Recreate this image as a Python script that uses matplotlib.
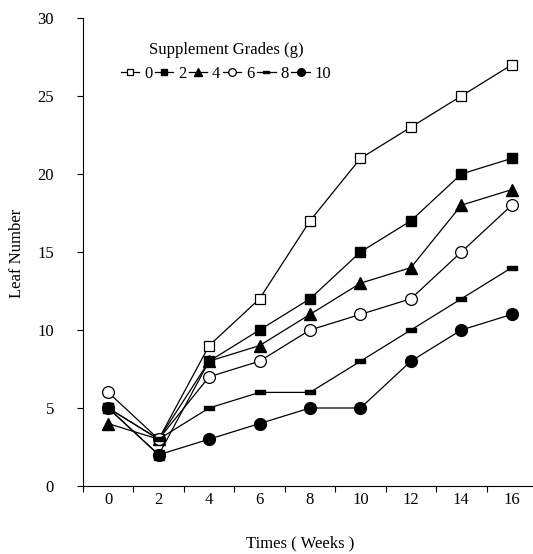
import matplotlib
matplotlib.use("Agg")
import matplotlib.pyplot as plt
from matplotlib.ticker import FixedLocator, NullFormatter

plt.rcParams['font.family'] = ['Liberation Serif', 'DejaVu Serif']

weeks = [0, 2, 4, 6, 8, 10, 12, 14, 16]
grade_labels = ['0', '2', '4', '6', '8', '10']
g0 = [5, 3, 9, 12, 17, 21, 23, 25, 27]
g2 = [5, 2, 8, 10, 12, 15, 17, 20, 21]
g4 = [4, 3, 8, 9, 11, 13, 14, 18, 19]
g6 = [6, 3, 7, 8, 10, 11, 12, 15, 18]
g8 = [5, 3, 5, 6, 6, 8, 10, 12, 14]
g10 = [5, 2, 3, 4, 5, 5, 8, 10, 11]
series = [g0, g2, g4, g6, g8, g10]

bar = [(-1, -0.32), (1, -0.32), (1, 0.32), (-1, 0.32), (-1, -0.32)]
styles = [
    dict(marker='s', mfc='white', mec='black', ms=7.5, mew=0.9),
    dict(marker='s', mfc='black', mec='black', ms=7.5),
    dict(marker='^', mfc='black', mec='black', ms=8.5),
    dict(marker='o', mfc='white', mec='black', ms=8.5, mew=0.9),
    dict(marker=bar, mfc='black', mec='black', ms=7.5),
    dict(marker='o', mfc='black', mec='black', ms=8.5),
]

fig = plt.figure(figsize=(5.33, 5.54), dpi=100)
W, H = 533, 554
left, right = 83 / W, 537 / W
bottom, top = (H - 486) / H, (H - 18) / H
ax = fig.add_axes([left, bottom, right - left, top - bottom])

for vals, lab, st in zip(series, grade_labels, styles):
    ax.plot(weeks, vals, color='black', lw=0.9, label=lab, **st)

ax.set_xlim(-1, 17)
ax.set_ylim(0, 30)
ax.set_yticks([0, 5, 10, 15, 20, 25, 30])
ax.xaxis.set_major_locator(FixedLocator([-1, 1, 3, 5, 7, 9, 11, 13, 15, 17]))
ax.xaxis.set_major_formatter(NullFormatter())
ax.xaxis.set_minor_locator(FixedLocator(weeks))
ax.set_xticklabels([str(w) for w in weeks], minor=True)
ax.tick_params(axis='x', which='major', direction='out', length=4, width=0.8)
ax.tick_params(axis='x', which='minor', length=0, pad=4, labelsize=12)
ax.tick_params(axis='y', direction='out', length=4, width=0.8, pad=17, labelsize=12)
for s in ['top', 'right']:
    ax.spines[s].set_visible(False)
for s in ['left', 'bottom']:
    ax.spines[s].set_linewidth(0.8)

fig.text(17 / W, 1 - 253 / H, 'Leaf Number', rotation=90, ha='center', va='center', fontsize=12)
fig.text(300 / W, 1 - 543 / H, 'Times ( Weeks )', ha='center', va='center', fontsize=12)

leg = ax.legend(ncol=6, loc='center', bbox_to_anchor=((226 - 83) / (537 - 83), 1 - (62 - 18) / (486 - 18)),
                frameon=False, title='Supplement Grades (g)', title_fontsize=12, fontsize=12,
                handlelength=1.1, handletextpad=0.3, columnspacing=0.15, markerscale=0.65,
                borderpad=0.2)

fig.savefig('out.png', dpi=100)
